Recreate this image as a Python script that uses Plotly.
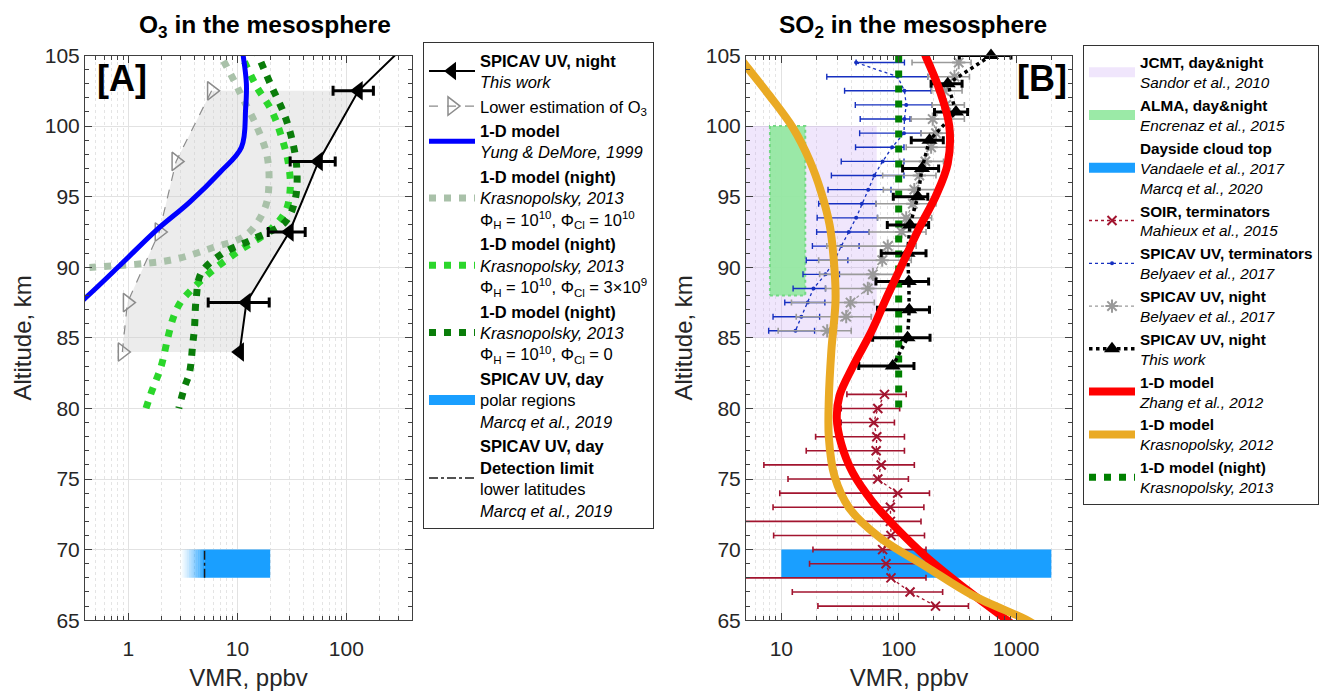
import numpy as np
import plotly.graph_objects as go

W, H = 1328, 696
FONT = "Liberation Sans, Arial, sans-serif"

# ================= Panel A : O3 =================
o3_spicav_alt = [107.5, 102.5, 97.5, 92.5, 87.5, 84.0]
o3_spicav_vmr = [600, 129, 55.6, 30, 12.1, 10.5]
o3_spicav_lo = [600, 75.5, 30.5, 19.2, 5.4, 10.5]
o3_spicav_hi = [600, 177, 79, 41.9, 19.6, 10.5]

o3_lower_alt = [102.5, 97.5, 92.5, 87.5, 84.0]
o3_lower_vmr = [5.8, 2.74, 1.92, 0.98, 0.88]

yung_alt = [105.5, 105, 103, 101.2, 98.5, 96.7, 94.6, 92.6, 90.3, 87.8, 86.5]
yung_vmr = [11.0, 11.3, 12.1, 11.9, 10.9, 6.87, 3.63, 1.79, 0.88, 0.40, 0.25]

kras_cl10_alt = [105.5, 104.9, 103.1, 101.9, 100.0, 98.0, 96.0, 94.2, 92.3, 91.4, 90.5, 90.0, 89.9]
kras_cl10_vmr = [6.3, 7.1, 9.5, 11.3, 15.0, 18.6, 19.5, 17.9, 12.1, 6.0, 2.4, 0.47, 0.3]

kras_cl3_alt = [105.5, 105, 102.8, 101.1, 99.2, 97.35, 95.5, 93.9, 92.45, 91.2, 89.8, 88.5, 87.5, 86.5, 85.0, 83.0, 81.0, 80.0]
kras_cl3_vmr = [10.0, 10.9, 15.0, 20.6, 25.5, 29.4, 30.5, 27.4, 18.6, 10.5, 5.97, 3.9, 3.0, 2.6, 2.3, 2.0, 1.6, 1.45]

kras_cl0_alt = [105.5, 105, 102.8, 101.0, 99.1, 97.0, 94.8, 93.2, 92.0, 91.0, 89.6, 87.8, 85.7, 84.6, 82.5, 81.5, 80.0]
kras_cl0_vmr = [14.5, 15.5, 20.6, 26.4, 31.6, 35.1, 33.9, 27.4, 14.0, 7.4, 4.66, 4.19, 4.04, 3.9, 3.63, 3.27, 2.9]

o3_day_x = [5, 20]          # polar regions (solid part)
o3_day_fade_start = 3       # start of fading part
o3_day_alt = [68, 70]
o3_detect_limit = 5

# ================= Panel B : SO2 =================
jcmt_x = [1, 65]
jcmt_alt = [85, 100]
alma_x = [8, 16]
alma_alt = [88, 100]
dayside_x = [10, 2000]
dayside_alt = [68, 70]

soir_alt = [81, 80, 79, 78, 77, 76, 75, 74, 73, 72, 71, 70, 69, 68, 67, 66]
soir_vmr = [75.7, 66.4, 61.4, 65.1, 64.3, 71, 66.4, 98, 85, 85, 86, 73, 78, 86, 125, 206]
soir_lo = [36.2, 32.4, 32.4, 19.6, 16.3, 7.1, 11.4, 9.7, 8.5, 3, 8.6, 18.6, 17.4, 3, 12.4, 20.5]
soir_hi = [116, 102, 92, 112, 112, 136, 121, 183, 164, 155, 166, 171, 171, 171, 237, 393]

bel_alt = [104.5, 103.5, 102.5, 101.5, 100.5, 99.5, 98.5, 97.5, 96.5, 95.5,
           94.5, 93.5, 92.5, 91.5, 90.5, 89.5, 88.5, 87.5, 86.5, 85.5]
term_vmr = [43.4, 98, 112, 116, 112, 111, 88, 73, 62, 55, 48.5, 43.4, 37.6, 32.4, 28.5, 23.8, 18.8, 16.8, 14.8, 13.2]
term_lo = [43.4, 24.4, 34.6, 42.7, 47, 46.5, 42.9, 32.4, 26.7, 25, 20.8, 20.2, 20, 18.4, 16.3, 15.3, 12.6, 10.7, 8.5, 7.8]
term_hi = [112, 177, 189, 193, 125, 155, 111, 111, 111, 86, 64, 66, 56, 46, 36.9, 31.3, 23.8, 23.5, 21.2, 19.2]

night_vmr = [325, 299, 245, 254, 195, 208, 189, 169, 150, 136, 132, 116, 106, 80.7, 72.4, 60.3, 54.6, 38.9, 35.7, 24.6]
night_lo = [130, 177, 191, 193, 128, 155, 116, 102, 73, 74, 64, 66, 56, 24.4, 20.8, 21.2, 23.8, 12.2, 13.4, 9.4]
night_hi = [414, 401, 347, 363, 363, 289, 270, 241, 208, 222, 208, 191, 171, 141, 128, 95, 83.6, 62, 58.3, 39.4]

so2_tw_alt = [105, 103, 101, 99, 97, 95, 93, 91, 89, 87, 85, 83]
so2_tw_vmr = [612, 262, 308, 183, 158, 145.6, 125, 119, 122, 123, 119, 89]
so2_tw_lo = [329, 189, 202, 128, 108, 90, 80, 71, 64, 66, 60, 45.7]
so2_tw_hi = [906, 347, 387, 240, 219, 177, 180, 171, 180, 183, 185, 135]

zhang_alt = [105.5, 104.9, 102.6, 100.0, 97.35, 95.07, 92.8, 90.27, 87.76, 85.5, 82.97, 80.9, 79.3, 77.5,
             75.43, 73.38, 71.55, 69.5, 67.2, 65.05, 64.5]
zhang_vmr = [160, 171, 222, 270, 262, 208, 150, 108, 78, 59, 40.7, 31.3, 29.7, 32.4,
             40.7, 60, 95, 171, 375, 822, 1000]

kras12_alt = [105.5, 104.4, 102.15, 99.86, 97.58, 95.3, 93.0, 90.5, 87.76, 84.1, 80.7, 77.95, 75.2,
              72.92, 70.87, 68.8, 66.76, 65.05, 64.6]
kras12_vmr = [3.85, 4.87, 7.95, 12.6, 17.4, 21.9, 25.8, 28, 29, 26.7, 25.4, 25.4, 28.4,
              38.1, 68.7, 171, 428, 1216, 1500]

kras13_alt = [105, 100, 95, 90, 85, 80]
kras13_vmr = [100, 100, 100, 100, 100, 100]


def rect(x, y):
    return [x[0], x[1], x[1], x[0], x[0]], [y[0], y[0], y[1], y[1], y[0]]


def errs(v, lo, hi):
    return [h - a for a, h in zip(v, hi)], [a - l for a, l in zip(v, lo)]


fig = go.Figure()


def legend_box(name, color, rank, legend, xa, ya):
    # legend-only key drawn as a thick bar (looks like a filled rectangle)
    fig.add_trace(go.Scatter(x=[None], y=[None], mode='lines', line=dict(color=color, width=20),
                             name=name, legendrank=rank, legend=legend, xaxis=xa, yaxis=ya))


# ---------- Panel A traces ----------
fig.add_trace(go.Scatter(
    x=o3_lower_vmr + o3_spicav_vmr[1:][::-1], y=o3_lower_alt + o3_spicav_alt[1:][::-1],
    fill='toself', fillcolor='rgba(205,205,205,0.38)', line=dict(width=0), mode='lines',
    showlegend=False, hoverinfo='skip', xaxis='x', yaxis='y'))

g = np.logspace(np.log10(o3_day_fade_start), np.log10(o3_day_x[0]), 15)
for i in range(len(g) - 1):
    a = ((i + 0.5) / (len(g) - 1)) ** 1.3
    rx, ry = rect([g[i], g[i + 1] * 1.002], o3_day_alt)
    fig.add_trace(go.Scatter(x=rx, y=ry, fill='toself', fillcolor=f'rgba(26,159,255,{a:.3f})',
                             line=dict(width=0), mode='lines', showlegend=False, hoverinfo='skip',
                             xaxis='x', yaxis='y'))
rx, ry = rect(o3_day_x, o3_day_alt)
fig.add_trace(go.Scatter(x=rx, y=ry, fill='toself', fillcolor='#1a9fff', line=dict(width=0, color='#1a9fff'),
                         mode='lines', showlegend=False, xaxis='x', yaxis='y'))
legend_box('<b>SPICAV UV, day</b><br>polar regions<br><i>Marcq et al., 2019</i>', '#1a9fff', 7, 'legend', 'x', 'y')
fig.add_trace(go.Scatter(x=[o3_detect_limit, o3_detect_limit], y=o3_day_alt, mode='lines',
                         line=dict(color='#1a1a1a', width=1.5, dash='dashdot'),
                         name='<b>SPICAV UV, day</b><br><b>Detection limit</b><br>lower latitudes<br><i>Marcq et al., 2019</i>',
                         legendrank=8, xaxis='x', yaxis='y', legend='legend'))

fig.add_trace(go.Scatter(x=o3_lower_vmr, y=o3_lower_alt, mode='lines+markers',
                         line=dict(color='#8c8c8c', width=1.2, dash='dash'),
                         marker=dict(symbol='triangle-right-open', size=16, color='#8c8c8c', line=dict(width=1.5)),
                         name='Lower estimation of O<sub>3</sub>', legendrank=2, xaxis='x', yaxis='y', legend='legend'))

fig.add_trace(go.Scatter(x=kras_cl10_vmr, y=kras_cl10_alt, mode='lines', line_shape='spline',
                         line=dict(color='#a9c1a9', width=7, dash='7px,8px'),
                         name='<b>1-D model (night)</b><br><i>Krasnopolsky, 2013</i><br>Φ<sub>H</sub> = 10<sup>10</sup>, Φ<sub>Cl</sub> = 10<sup>10</sup>',
                         legendrank=4, xaxis='x', yaxis='y', legend='legend'))
fig.add_trace(go.Scatter(x=kras_cl3_vmr, y=kras_cl3_alt, mode='lines', line_shape='spline',
                         line=dict(color='#2bd62b', width=7, dash='7px,8px'),
                         name='<b>1-D model (night)</b><br><i>Krasnopolsky, 2013</i><br>Φ<sub>H</sub> = 10<sup>10</sup>, Φ<sub>Cl</sub> = 3×10<sup>9</sup>',
                         legendrank=5, xaxis='x', yaxis='y', legend='legend'))
fig.add_trace(go.Scatter(x=kras_cl0_vmr, y=kras_cl0_alt, mode='lines', line_shape='spline',
                         line=dict(color='#0a7d0a', width=7, dash='7px,8px'),
                         name='<b>1-D model (night)</b><br><i>Krasnopolsky, 2013</i><br>Φ<sub>H</sub> = 10<sup>10</sup>, Φ<sub>Cl</sub> = 0',
                         legendrank=6, xaxis='x', yaxis='y', legend='legend'))
fig.add_trace(go.Scatter(x=yung_vmr, y=yung_alt, mode='lines', line_shape='spline',
                         line=dict(color='#0000ff', width=5),
                         name='<b>1-D model</b><br><i>Yung & DeMore, 1999</i>',
                         legendrank=3, xaxis='x', yaxis='y', legend='legend'))
ep, em = errs(o3_spicav_vmr, o3_spicav_lo, o3_spicav_hi)
fig.add_trace(go.Scatter(x=o3_spicav_vmr, y=o3_spicav_alt, mode='lines+markers',
                         line=dict(color='black', width=2),
                         marker=dict(symbol='triangle-left', size=17, color='black'),
                         error_x=dict(type='data', symmetric=False, array=ep, arrayminus=em,
                                      color='black', thickness=3, width=5),
                         name='<b>SPICAV UV, night</b><br><i>This work</i>',
                         legendrank=1, xaxis='x', yaxis='y', legend='legend'))

# ---------- Panel B traces ----------
rx, ry = rect(jcmt_x, jcmt_alt)
fig.add_trace(go.Scatter(x=rx, y=ry, fill='toself', fillcolor='rgba(196,160,245,0.26)', line=dict(width=0),
                         mode='lines', showlegend=False, xaxis='x2', yaxis='y2'))
legend_box('<b>JCMT, day&night</b><br><i>Sandor et al., 2010</i>', 'rgba(196,160,245,0.26)', 1, 'legend2', 'x2', 'y2')
rx, ry = rect(alma_x, alma_alt)
fig.add_trace(go.Scatter(x=rx, y=ry, fill='toself', fillcolor='rgba(146,232,160,0.92)',
                         line=dict(width=2, color='#74d884', dash='dot'),
                         mode='lines', showlegend=False, xaxis='x2', yaxis='y2'))
legend_box('<b>ALMA, day&night</b><br><i>Encrenaz et al., 2015</i>', 'rgba(146,232,160,0.92)', 2, 'legend2', 'x2', 'y2')
rx, ry = rect(dayside_x, dayside_alt)
fig.add_trace(go.Scatter(x=rx, y=ry, fill='toself', fillcolor='#1a9fff', line=dict(width=0),
                         mode='lines', showlegend=False, xaxis='x2', yaxis='y2'))
legend_box('<b>Dayside cloud top</b><br><i>Vandaele et al., 2017</i><br><i>Marcq et al., 2020</i>', '#1a9fff', 3, 'legend2', 'x2', 'y2')

ep, em = errs(soir_vmr, soir_lo, soir_hi)
fig.add_trace(go.Scatter(x=soir_vmr, y=soir_alt, mode='lines+markers',
                         line=dict(color='#a2142f', width=1.3, dash='dot'),
                         marker=dict(symbol='x-thin', size=9, color='#a2142f', line=dict(width=2, color='#a2142f')),
                         error_x=dict(type='data', symmetric=False, array=ep, arrayminus=em,
                                      color='#a2142f', thickness=1.6, width=3),
                         name='<b>SOIR, terminators</b><br><i>Mahieux et al., 2015</i>',
                         legendrank=4, xaxis='x2', yaxis='y2', legend='legend2'))
ep, em = errs(term_vmr, term_lo, term_hi)
fig.add_trace(go.Scatter(x=term_vmr, y=bel_alt, mode='lines+markers',
                         line=dict(color='#1630c0', width=1.3, dash='dot'),
                         marker=dict(symbol='circle', size=4, color='#1630c0'),
                         error_x=dict(type='data', symmetric=False, array=ep, arrayminus=em,
                                      color='#1630c0', thickness=1.4, width=3),
                         name='<b>SPICAV UV, terminators</b><br><i>Belyaev et al., 2017</i>',
                         legendrank=5, xaxis='x2', yaxis='y2', legend='legend2'))
ep, em = errs(night_vmr, night_lo, night_hi)
fig.add_trace(go.Scatter(x=night_vmr, y=bel_alt, mode='lines+markers',
                         line=dict(color='#9a9a9a', width=1.3, dash='dot'),
                         marker=dict(symbol='asterisk', size=11, color='#9a9a9a', line=dict(width=2, color='#9a9a9a')),
                         error_x=dict(type='data', symmetric=False, array=ep, arrayminus=em,
                                      color='#9a9a9a', thickness=1.6, width=3),
                         name='<b>SPICAV UV, night</b><br><i>Belyaev et al., 2017</i>',
                         legendrank=6, xaxis='x2', yaxis='y2', legend='legend2'))
fig.add_trace(go.Scatter(x=kras13_vmr, y=kras13_alt, mode='lines',
                         line=dict(color='#008000', width=7, dash='7px,8px'),
                         name='<b>1-D model (night)</b><br><i>Krasnopolsky, 2013</i>',
                         legendrank=10, xaxis='x2', yaxis='y2', legend='legend2'))
ep, em = errs(so2_tw_vmr, so2_tw_lo, so2_tw_hi)
fig.add_trace(go.Scatter(x=so2_tw_vmr, y=so2_tw_alt, mode='lines+markers', cliponaxis=False,
                         line=dict(color='black', width=3.5, dash='dot'),
                         marker=dict(symbol='triangle-up', size=14, color='black'),
                         error_x=dict(type='data', symmetric=False, array=ep, arrayminus=em,
                                      color='black', thickness=3, width=4),
                         name='<b>SPICAV UV, night</b><br><i>This work</i>',
                         legendrank=7, xaxis='x2', yaxis='y2', legend='legend2'))
fig.add_trace(go.Scatter(x=zhang_vmr, y=zhang_alt, mode='lines', line_shape='spline',
                         line=dict(color='#ff0000', width=8),
                         name='<b>1-D model</b><br><i>Zhang et al., 2012</i>',
                         legendrank=8, xaxis='x2', yaxis='y2', legend='legend2'))
fig.add_trace(go.Scatter(x=kras12_vmr, y=kras12_alt, mode='lines', line_shape='spline',
                         line=dict(color='#eaaa24', width=8),
                         name='<b>1-D model</b><br><i>Krasnopolsky, 2012</i>',
                         legendrank=9, xaxis='x2', yaxis='y2', legend='legend2'))

# ---------- axes ----------
def minor_vals(e0, e1):
    return [m * 10.0 ** e for e in range(e0, e1) for m in range(2, 10)]

ydom = [1 - 629 / H, 1 - 45 / H]
axcol = '#404040'
common = dict(showline=True, linecolor=axcol, linewidth=1, mirror='ticks', ticks='inside',
              tickcolor=axcol, ticklen=7, tickwidth=1, zeroline=False,
              tickfont=dict(family=FONT, size=21, color='#262626'),
              showgrid=True, gridcolor='#e2e2e2', gridwidth=1)
xtitle = dict(text='VMR, ppbv', font=dict(family=FONT, size=24, color='#262626'), standoff=9)
ytitle = dict(text='Altitude, km', font=dict(family=FONT, size=24, color='#262626'), standoff=6)
xminor = dict(ticks='inside', ticklen=4, tickcolor=axcol, showgrid=True, gridcolor='#e4e4e4', griddash='dot')
yminor = dict(dtick=1, ticks='inside', ticklen=4, tickcolor=axcol, showgrid=False)

fig.update_layout(
    xaxis=dict(type='log', range=[np.log10(0.4), np.log10(400)], domain=[85 / W, 412 / W], anchor='y',
               tickmode='array', tickvals=[1, 10, 100], ticktext=['1', '10', '100'], ticklabelstandoff=10,
               minor=dict(tickmode='array', tickvals=minor_vals(-1, 3), **xminor),
               title=xtitle, **common),
    yaxis=dict(range=[65, 105], domain=ydom, anchor='x', dtick=5, tick0=65, minor=yminor,
               title=ytitle, **common),
    xaxis2=dict(type='log', range=[np.log10(5), np.log10(3000)], domain=[746 / W, 1072 / W], anchor='y2',
                tickmode='array', tickvals=[10, 100, 1000], ticktext=['10', '100', '1000'], ticklabelstandoff=10,
                minor=dict(tickmode='array', tickvals=minor_vals(0, 4), **xminor),
                title=xtitle, **common),
    yaxis2=dict(range=[65, 105], domain=ydom, anchor='x2', dtick=5, tick0=65, minor=yminor,
                title=ytitle, **common),
)

leg_common = dict(xanchor='left', yanchor='top', bordercolor='#333333', borderwidth=1, bgcolor='white',
                  itemwidth=46, tracegroupgap=0, traceorder='normal', valign='middle')
fig.update_layout(
    legend=dict(x=423 / W, y=1 - 31 / H, font=dict(family=FONT, size=16.5, color='#000000'), **leg_common),
    legend2=dict(x=1083 / W, y=1 - 34 / H, font=dict(family=FONT, size=15.3, color='#000000'), **leg_common),
)

annots = [
    dict(text='<b>O<sub>3</sub> in the mesosphere</b>', x=265 / W, y=1 - 15 / H, font=dict(size=24.5)),
    dict(text='<b>SO<sub>2</sub> in the mesosphere</b>', x=913 / W, y=1 - 15 / H, font=dict(size=24.5)),
    dict(text='<b>[A]</b>', x=122 / W, y=1 - 69 / H, font=dict(size=36)),
    dict(text='<b>[B]</b>', x=1042 / W, y=1 - 69 / H, font=dict(size=36)),
]
for a in annots:
    a['font'].update(family=FONT, color='#000000')
    fig.add_annotation(xref='paper', yref='paper', xanchor='center', yanchor='middle', showarrow=False, **a)

fig.update_layout(width=W, height=H, margin=dict(l=0, r=0, t=0, b=0),
                  paper_bgcolor='white', plot_bgcolor='white', font=dict(family=FONT))

fig.write_html("out.html")
